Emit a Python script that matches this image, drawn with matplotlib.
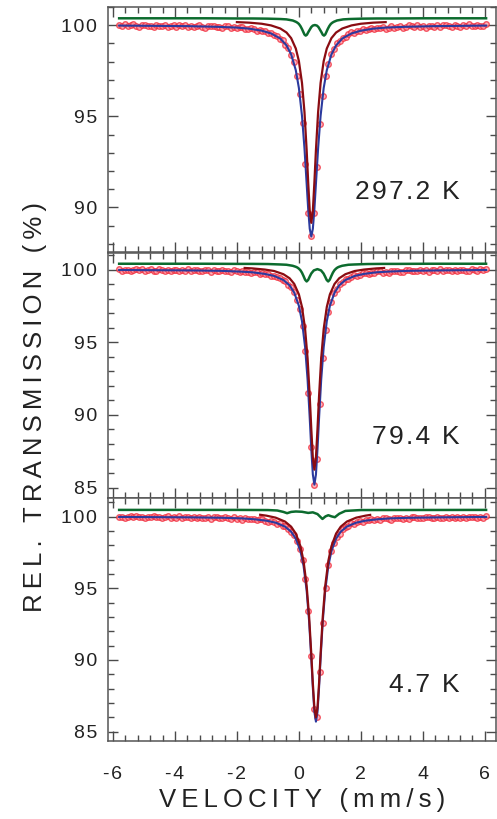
import numpy as np
import matplotlib.pyplot as plt
from matplotlib.ticker import MultipleLocator, FuncFormatter

plt.rcParams['font.family'] = ['Liberation Sans', 'DejaVu Sans']
plt.rcParams['axes.unicode_minus'] = False

temps = ['297.2 K', '79.4 K', '4.7 K']

# folded spectra, 129 channels from -5.8 to 6.04 mm/s, relative transmission (%)
data_297 = [100.02, 99.95, 100.04, 99.93, 99.99, 100.05, 99.96, 99.92, 100.01, 100.03,
            99.94, 99.98, 99.89, 100.00, 99.96, 99.93, 100.02, 99.91, 99.98, 100.01,
            99.90, 99.99, 99.95, 100.03, 99.89, 99.94, 99.88, 99.97, 99.99, 99.91,
            99.86, 99.96, 99.93, 99.98, 99.89, 99.91, 99.83, 99.93, 99.96, 99.86,
            99.90, 99.82, 99.89, 99.90, 99.81, 99.77, 99.85, 99.78, 99.69, 99.75,
            99.67, 99.69, 99.58, 99.57, 99.44, 99.43, 99.27, 99.20, 98.94, 98.75,
            98.36, 97.96, 97.19, 96.24, 94.61, 92.40, 89.71, 88.42, 89.68, 92.20,
            94.58, 96.11, 97.22, 97.86, 98.40, 98.69, 99.01, 99.14, 99.32, 99.35,
            99.50, 99.61, 99.56, 99.66, 99.66, 99.79, 99.71, 99.80, 99.85, 99.78,
            99.87, 99.83, 99.90, 99.79, 99.84, 99.93, 99.82, 99.92, 99.94, 99.87,
            99.88, 99.99, 99.94, 99.89, 100.00, 99.90, 99.95, 99.87, 99.97, 99.93,
            99.90, 100.01, 99.91, 99.99, 100.02, 99.94, 99.90, 100.00, 99.97, 99.92,
            100.01, 99.93, 100.05, 99.97, 99.93, 100.01, 99.98, 99.94, 100.04]
data_79 = [100.04, 99.94, 99.98, 100.01, 99.93, 99.97, 100.05, 99.95, 100.03, 99.94,
           99.99, 100.02, 99.92, 99.94, 100.02, 99.99, 99.91, 100.01, 99.93, 99.96,
           100.00, 99.90, 99.98, 99.93, 100.03, 99.90, 99.95, 100.00, 99.89, 99.92,
           99.99, 99.97, 99.87, 99.98, 99.94, 99.89, 99.96, 99.89, 99.93, 99.84,
           99.95, 99.92, 99.81, 99.92, 99.82, 99.86, 99.80, 99.87, 99.81, 99.73,
           99.77, 99.70, 99.72, 99.60, 99.59, 99.47, 99.46, 99.30, 99.24, 98.98,
           98.82, 98.47, 97.93, 97.29, 96.14, 94.42, 91.50, 87.77, 85.19, 86.97,
           90.75, 93.92, 95.82, 97.10, 97.81, 98.38, 98.69, 99.01, 99.14, 99.33,
           99.35, 99.49, 99.61, 99.58, 99.64, 99.76, 99.76, 99.71, 99.79, 99.77,
           99.91, 99.88, 99.78, 99.86, 99.80, 99.89, 99.89, 99.92, 99.82, 99.87,
           99.95, 99.97, 99.88, 99.94, 99.89, 100.00, 99.92, 99.96, 99.87, 99.98,
           99.95, 99.88, 100.02, 99.93, 99.96, 100.00, 99.89, 99.98, 99.92, 100.01,
           99.99, 99.90, 99.94, 100.05, 99.99, 99.93, 100.04, 99.95, 100.02]
data_4 = [99.96, 100.01, 99.93, 100.00, 100.02, 99.95, 100.03, 99.96, 100.01, 99.94,
          100.00, 99.95, 100.03, 99.95, 99.99, 99.92, 99.98, 100.02, 99.91, 99.97,
          99.93, 100.03, 99.92, 99.98, 100.01, 99.90, 99.97, 99.93, 100.00, 99.89,
          99.94, 99.98, 99.87, 99.97, 99.99, 99.92, 99.89, 99.96, 99.91, 99.86,
          99.97, 99.87, 99.92, 99.79, 99.89, 99.85, 99.82, 99.87, 99.76, 99.82,
          99.82, 99.71, 99.64, 99.70, 99.63, 99.52, 99.54, 99.37, 99.36, 99.14,
          98.90, 98.72, 98.31, 97.72, 96.99, 95.64, 93.43, 90.26, 86.60, 86.00,
          89.14, 92.59, 95.01, 96.63, 97.60, 98.13, 98.61, 98.81, 99.13, 99.25,
          99.34, 99.53, 99.49, 99.62, 99.70, 99.63, 99.75, 99.74, 99.85, 99.76,
          99.83, 99.80, 99.89, 99.91, 99.83, 99.78, 99.88, 99.89, 99.94, 99.85,
          99.91, 99.83, 99.97, 100.00, 99.90, 99.94, 99.88, 99.96, 99.99, 99.91,
          99.89, 99.98, 99.93, 99.90, 99.99, 99.94, 100.00, 99.93, 99.98, 99.92,
          99.99, 99.94, 100.01, 99.95, 100.00, 99.94, 100.01, 99.93, 100.02]

# total fit (blue)
fit_v_297 = [-5.8, -3.6, -2.6, -2.0, -1.6, -1.2, -0.9, -0.6, -0.4, -0.25, -0.1, 0.0, 0.1,
             0.18, 0.25, 0.30, 0.35, 0.40, 0.45, 0.50, 0.55, 0.62, 0.70, 0.80, 0.90, 1.05,
             1.20, 1.40, 1.70, 2.00, 2.40, 2.80, 3.40, 4.40, 6.04]
fit_t_297 = [99.98, 99.95, 99.91, 99.87, 99.81, 99.70, 99.55, 99.27, 98.89, 98.40, 97.53,
             96.55, 95.02, 93.24, 91.30, 89.90, 88.82, 88.40, 88.82, 89.90, 91.30, 93.24,
             95.02, 96.55, 97.53, 98.40, 98.89, 99.27, 99.55, 99.70, 99.81, 99.87, 99.91,
             99.95, 99.98]
fit_v_79 = [-5.8, -3.5, -2.5, -1.9, -1.5, -1.1, -0.8, -0.5, -0.3, -0.15, 0.0, 0.1, 0.2,
            0.28, 0.35, 0.40, 0.45, 0.50, 0.55, 0.60, 0.65, 0.72, 0.80, 0.90, 1.00, 1.15,
            1.30, 1.50, 1.80, 2.10, 2.50, 2.90, 3.50, 4.50, 6.04]
fit_t_79 = [99.98, 99.95, 99.92, 99.87, 99.82, 99.71, 99.57, 99.29, 98.92, 98.42, 97.51,
            96.45, 94.67, 92.44, 89.76, 87.64, 85.90, 85.20, 85.90, 87.64, 89.76, 92.44,
            94.67, 96.45, 97.51, 98.42, 98.92, 99.29, 99.57, 99.71, 99.82, 99.87, 99.92,
            99.95, 99.98]
fit_v_4 = [-5.8, -3.45, -2.45, -1.85, -1.45, -1.05, -0.75, -0.45, -0.25, -0.10, 0.05, 0.15,
           0.25, 0.33, 0.40, 0.45, 0.50, 0.55, 0.60, 0.65, 0.70, 0.77, 0.85, 0.95, 1.05,
           1.20, 1.35, 1.55, 1.85, 2.15, 2.55, 2.95, 3.55, 4.55, 6.04]
fit_t_4 = [99.98, 99.95, 99.92, 99.88, 99.82, 99.72, 99.58, 99.31, 98.95, 98.47, 97.60,
           96.57, 94.85, 92.69, 90.10, 88.06, 86.37, 85.70, 86.37, 88.06, 90.10, 92.69,
           94.85, 96.57, 97.60, 98.47, 98.95, 99.31, 99.58, 99.72, 99.82, 99.88, 99.92,
           99.95, 99.98]

# singlet subspectrum (dark red), shifted up
sing_v_297 = [-2.0, -1.6, -1.2, -0.9, -0.6, -0.4, -0.25, -0.1, 0.0, 0.1, 0.18, 0.25, 0.30,
              0.35, 0.40, 0.45, 0.50, 0.55, 0.62, 0.70, 0.80, 0.90, 1.05, 1.20, 1.40, 1.70,
              2.00, 2.40, 2.80]
sing_t_297 = [100.17, 100.14, 100.08, 99.99, 99.82, 99.60, 99.29, 98.72, 98.03, 96.83,
              95.23, 93.15, 91.37, 89.80, 89.15, 89.80, 91.37, 93.15, 95.23, 96.83, 98.03,
              98.72, 99.29, 99.60, 99.82, 99.99, 100.08, 100.14, 100.17]
sing_v_79 = [-1.75, -1.5, -1.1, -0.8, -0.5, -0.3, -0.15, 0.0, 0.1, 0.2, 0.28, 0.35, 0.40,
             0.45, 0.50, 0.55, 0.60, 0.65, 0.72, 0.80, 0.90, 1.00, 1.15, 1.30, 1.50, 1.80,
             2.10, 2.50, 2.75]
sing_t_79 = [100.12, 100.09, 100.01, 99.91, 99.69, 99.41, 99.02, 98.30, 97.43, 95.92,
             93.90, 91.27, 89.03, 87.06, 86.23, 87.06, 89.03, 91.27, 93.90, 95.92, 97.43,
             98.30, 99.02, 99.41, 99.69, 99.91, 100.01, 100.09, 100.12]
sing_v_4 = [-1.25, -1.05, -0.75, -0.45, -0.25, -0.10, 0.05, 0.15, 0.25, 0.33, 0.40, 0.45,
            0.50, 0.55, 0.60, 0.65, 0.70, 0.77, 0.85, 0.95, 1.05, 1.20, 1.35, 1.55, 1.85,
            2.15, 2.30]
sing_t_4 = [100.13, 100.07, 99.93, 99.66, 99.30, 98.82, 97.94, 96.91, 95.18, 93.02, 90.42,
            88.37, 86.67, 86.00, 86.67, 88.37, 90.42, 93.02, 95.18, 96.91, 97.94, 98.82,
            99.30, 99.66, 99.93, 100.07, 100.12]

# doublet subspectrum (green), shifted up
doub_v_297 = [-5.8, -3.0, -2.0, -1.5, -1.0, -0.6, -0.4, -0.2, -0.1, -0.05, 0.0, 0.05, 0.1,
              0.15, 0.18, 0.22, 0.26, 0.30, 0.40, 0.45, 0.515, 0.58, 0.63, 0.73, 0.77, 0.81,
              0.85, 0.88, 0.93, 0.98, 1.03, 1.08, 1.13, 1.23, 1.43, 1.63, 2.03, 2.53, 3.03,
              4.03, 6.04]
doub_t_297 = [100.38, 100.38, 100.37, 100.37, 100.36, 100.34, 100.32, 100.26, 100.19,
              100.14, 100.07, 99.95, 99.79, 99.60, 99.49, 99.43, 99.48, 99.61, 99.90, 99.98,
              100.01, 99.98, 99.90, 99.61, 99.48, 99.43, 99.49, 99.60, 99.79, 99.95, 100.07,
              100.14, 100.19, 100.26, 100.32, 100.34, 100.36, 100.37, 100.37, 100.38, 100.38]
doub_v_79 = [-5.8, -3.0, -2.0, -1.5, -1.0, -0.6, -0.4, -0.2, -0.1, -0.05, 0.0, 0.05, 0.1,
             0.15, 0.2, 0.25, 0.3, 0.35, 0.4, 0.48, 0.5975, 0.715, 0.795, 0.845, 0.895,
             0.945, 0.995, 1.045, 1.095, 1.145, 1.195, 1.245, 1.295, 1.395, 1.595, 1.795,
             2.195, 2.695, 3.195, 4.195, 6.04]
doub_t_79 = [100.41, 100.41, 100.40, 100.40, 100.39, 100.36, 100.34, 100.27, 100.20,
             100.15, 100.07, 99.96, 99.79, 99.56, 99.31, 99.19, 99.30, 99.53, 99.74, 99.95,
             100.04, 99.95, 99.74, 99.53, 99.30, 99.19, 99.31, 99.56, 99.79, 99.96, 100.07,
             100.15, 100.20, 100.27, 100.34, 100.36, 100.39, 100.40, 100.40, 100.41, 100.41]
doub_v_4 = [-5.8, -2.0, -1.0, -0.7, -0.5, -0.38, -0.25, -0.1, 0.1, 0.3, 0.45, 0.6, 0.76,
            0.86, 0.95, 1.05, 1.16, 1.3, 1.5, 2.0, 6.04]
doub_t_4 = [100.47, 100.47, 100.46, 100.43, 100.33, 100.24, 100.33, 100.36, 100.34, 100.26,
            100.30, 100.18, 99.84, 100.02, 100.10, 100.02, 99.96, 100.20, 100.40, 100.46,
            100.47]

panels = [
    (data_297, fit_v_297, fit_t_297, sing_v_297, sing_t_297, doub_v_297, doub_t_297),
    (data_79, fit_v_79, fit_t_79, sing_v_79, sing_t_79, doub_v_79, doub_t_79),
    (data_4, fit_v_4, fit_t_4, sing_v_4, sing_t_4, doub_v_4, doub_t_4),
]
ylims = [(87.55, 101.0), (84.26, 101.15), (84.37, 101.28)]
label_y = [0.245, 0.25, 0.23]

HAIR, THIN = '\u200a', '\u2009'


def spaced(s, gap):
    # wide letter spacing of the original artwork
    return gap.join(s)


tick_fmt = FuncFormatter(lambda v, pos: spaced(f'{v:g}', HAIR))

W, H = 497, 819
fig = plt.figure(figsize=(W / 100, H / 100), dpi=100)
rects = [(7, 252), (253, 498.3), (498.3, 740.7)]
x0, x1 = 108.3, 496

for i, (top, bot) in enumerate(rects):
    ax = fig.add_axes([x0 / W, 1 - bot / H, (x1 - x0) / W, (bot - top) / H])
    data, fv, ft, sv, st, dv, dt = panels[i]
    vel = np.linspace(-5.8, 6.04, len(data))
    ax.plot(vel, data, 'o', ms=4.0, mfc='#ff9aa6', mec='#f02a3a', mew=1.0, alpha=0.75,
            zorder=2)
    ax.plot(fv, ft, color='#2b3a9e', lw=1.5, zorder=3)
    ax.plot(sv, st, color='#8a0c12', lw=1.6, zorder=4)
    ax.plot(dv, dt, color='#0c6b2e', lw=1.8, zorder=5)

    ax.set_xlim(-6.15, 6.36)
    ax.set_ylim(*ylims[i])
    ax.xaxis.set_major_locator(MultipleLocator(2))
    ax.xaxis.set_minor_locator(MultipleLocator(0.4))
    ax.yaxis.set_major_locator(MultipleLocator(5))
    ax.yaxis.set_minor_locator(MultipleLocator(1))
    ax.xaxis.set_major_formatter(tick_fmt)
    ax.yaxis.set_major_formatter(tick_fmt)
    ax.tick_params(which='both', direction='in', top=True, right=True,
                   color='#4a4a4a', width=1.0)
    ax.tick_params(which='major', length=7.5)
    ax.tick_params(which='minor', length=4)
    ax.tick_params(axis='y', labelsize=14, pad=8, labelcolor='#222222')
    ax.tick_params(axis='x', labelsize=14, pad=18.5, labelcolor='#222222')
    for s in ax.spines.values():
        s.set_color('#555555')
        s.set_linewidth(1.1)
    if i < 2:
        ax.tick_params(axis='x', labelbottom=False)
    ax.text(0.907, label_y[i], spaced(temps[i], HAIR), transform=ax.transAxes,
            ha='right', va='center', fontsize=19, color='#222222')

fig.text((x0 + x1) / 2 / W, 1 - 788 / H, spaced('VELOCITY (mm/s)', THIN), ha='center',
         va='top', fontsize=18.5, color='#222222')
fig.text(35 / W, 1 - 407 / H, spaced('REL. TRANSMISSION (%)', THIN), rotation=90,
         ha='center', va='center', fontsize=18.5, color='#222222')

fig.savefig('out.png', dpi=100)
